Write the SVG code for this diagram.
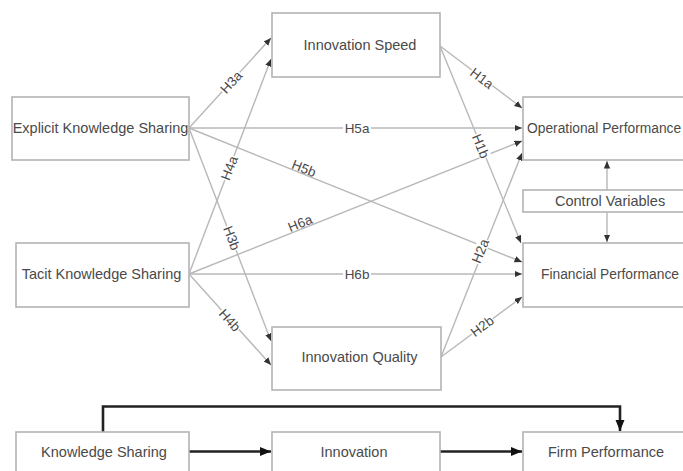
<svg xmlns="http://www.w3.org/2000/svg" width="683" height="471" viewBox="0 0 683 471">
<style>
.box{fill:#fff;stroke:#b3b3b3;stroke-width:1.6}
.t{font-family:"Liberation Sans",Arial,sans-serif;font-size:14.5px;fill:#4a4a4a}
.s{font-size:13.8px}
.c{fill:none;stroke:#b8b8b8;stroke-width:1.4;marker-end:url(#a)}
.k{fill:none;stroke:#222;stroke-width:2.6}
.lb{font-family:"Liberation Sans",Arial,sans-serif;font-size:13.5px;fill:#4a4a4a;text-anchor:middle}
.bg{fill:#fff}
</style>
<defs>
<marker id="a" markerUnits="userSpaceOnUse" markerWidth="8" markerHeight="7" refX="7.5" refY="3.2" orient="auto">
<path d="M0,0 L7.5,3.2 L0,6.4 z" fill="#333"/>
</marker>
<marker id="b" markerUnits="userSpaceOnUse" markerWidth="12" markerHeight="10" refX="11" refY="4.5" orient="auto">
<path d="M0,0 L11,4.5 L0,9 z" fill="#111"/>
</marker>
</defs>
<g id="connectors">
<path class="c" d="M189,128 L271,38"/>
<path class="c" d="M189,274 L271,59"/>
<path class="c" d="M189,128 L522,128"/>
<path class="c" d="M189,128 L522,262"/>
<path class="c" d="M189,128 L271,341"/>
<path class="c" d="M189,274 L522,141"/>
<path class="c" d="M189,274 L522,274"/>
<path class="c" d="M189,274 L271,365"/>
<path class="c" d="M440,46 L522,108"/>
<path class="c" d="M440,46 L521,243"/>
<path class="c" d="M441,357 L522,153"/>
<path class="c" d="M441,357 L522,297"/>
<path class="c" d="M607,190 L607,161"/>
<path class="c" d="M607,212 L607,242"/>
<path class="k" d="M103,432 L103,406.5 L620,406.5 L620,431" marker-end="url(#b)"/>
<path class="k" d="M189,451.5 L271,451.5" marker-end="url(#b)"/>
<path class="k" d="M440,451.5 L522,451.5" marker-end="url(#b)"/>
<g transform="translate(231,82) rotate(-47.7)"><rect class="bg" x="-13" y="-6" width="26" height="12"/><text class="lb" y="5">H3a</text></g>
<g transform="translate(229,168) rotate(-69.1)"><rect class="bg" x="-13" y="-6" width="26" height="12"/><text class="lb" y="5">H4a</text></g>
<g transform="translate(357,128)"><rect class="bg" x="-14" y="-6" width="28" height="12"/><text class="lb" y="5">H5a</text></g>
<g transform="translate(304,168) rotate(21.9)"><text class="lb" y="5">H5b</text></g>
<g transform="translate(300,223) rotate(-21.8)"><text class="lb" y="5">H6a</text></g>
<g transform="translate(357,274)"><rect class="bg" x="-14" y="-6" width="28" height="12"/><text class="lb" y="5">H6b</text></g>
<g transform="translate(232,238) rotate(68.9)"><rect class="bg" x="-13" y="-6" width="26" height="12"/><text class="lb" y="5">H3b</text></g>
<g transform="translate(230,320) rotate(48)"><rect class="bg" x="-13" y="-6" width="26" height="12"/><text class="lb" y="5">H4b</text></g>
<g transform="translate(482,78) rotate(37.1)"><rect class="bg" x="-13" y="-6" width="26" height="12"/><text class="lb" y="5">H1a</text></g>
<g transform="translate(481,146) rotate(67.4)"><rect class="bg" x="-13" y="-6" width="26" height="12"/><text class="lb" y="5">H1b</text></g>
<g transform="translate(480,251) rotate(-68.3)"><rect class="bg" x="-13" y="-6" width="26" height="12"/><text class="lb" y="5">H2a</text></g>
<g transform="translate(482,326) rotate(-36.5)"><rect class="bg" x="-13" y="-6" width="26" height="12"/><text class="lb" y="5">H2b</text></g>
</g>
<g id="innovation-speed"><rect class="box" x="272" y="13" width="168" height="64"/><text class="t" x="360" y="49.5" text-anchor="middle">Innovation Speed</text></g>
<g id="explicit-knowledge-sharing"><rect class="box" x="12" y="97" width="177" height="63"/><text class="t" x="100.5" y="133" text-anchor="middle">Explicit Knowledge Sharing</text></g>
<g id="operational-performance"><rect class="box" x="523" y="97" width="172" height="63"/><text class="t s" x="527" y="133">Operational Performance</text></g>
<g id="control-variables"><rect class="box" x="523" y="190" width="172" height="22"/><text class="t" x="555" y="206">Control Variables</text></g>
<g id="financial-performance"><rect class="box" x="523" y="243" width="172" height="64"/><text class="t s" x="541" y="279">Financial Performance</text></g>
<g id="tacit-knowledge-sharing"><rect class="box" x="16" y="243" width="173" height="64"/><text class="t" x="101.5" y="279" text-anchor="middle">Tacit Knowledge Sharing</text></g>
<g id="innovation-quality"><rect class="box" x="272" y="327" width="169" height="63"/><text class="t" x="359.5" y="362" text-anchor="middle">Innovation Quality</text></g>
<g id="knowledge-sharing"><rect class="box" x="16" y="432" width="173" height="60"/><text class="t" x="104" y="457" text-anchor="middle">Knowledge Sharing</text></g>
<g id="innovation"><rect class="box" x="272" y="432" width="168" height="60"/><text class="t" x="354" y="457" text-anchor="middle">Innovation</text></g>
<g id="firm-performance"><rect class="box" x="523" y="432" width="172" height="60"/><text class="t" x="548" y="457">Firm Performance</text></g>
</svg>
